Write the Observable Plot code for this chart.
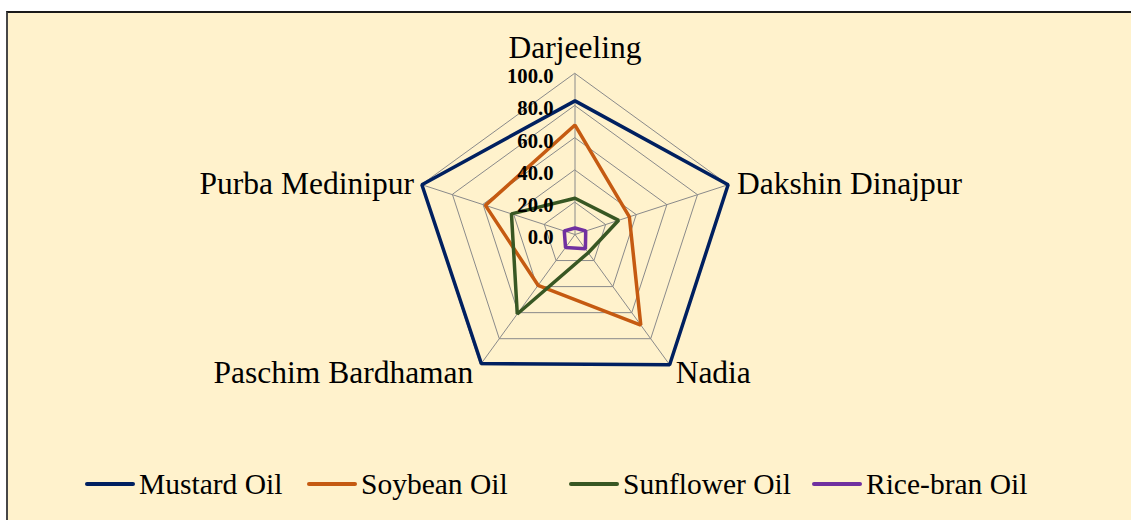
<!DOCTYPE html>
<html>
<head>
<meta charset="utf-8">
<script src="https://cdn.jsdelivr.net/npm/d3@7"></script>
<script src="https://cdn.jsdelivr.net/npm/@observablehq/plot@0.6"></script>
<style>
  html, body { margin: 0; padding: 0; background: #ffffff; width: 1131px; height: 520px; overflow: hidden; }
  #frame { position: absolute; left: 6px; top: 11px; width: 1200px; height: 600px; background: #FFF2CC;
           border-left: 2px solid #474747; border-top: 2px solid #1a1a1a; }
  #chart { position: absolute; left: 0; top: 0; }
  #legend { position: absolute; left: 0; top: 0; width: 1131px; height: 520px;
            font-family: "Liberation Serif", "Times New Roman", serif; font-size: 29.5px; color: #000; }
  .item { position: absolute; top: 467px; height: 34px; display: flex; align-items: center; white-space: nowrap; }
  .swatch { width: 50px; height: 4px; border-radius: 2px; }
  .label { margin-left: 4px; line-height: 34px; }
</style>
</head>
<body>
<div id="frame"></div>
<div id="chart"></div>
<div id="legend"></div>
<script>
// ---- data ----
const categories = ["Darjeeling", "Dakshin Dinajpur", "Nadia", "Paschim Bardhaman", "Purba Medinipur"];
const seriesNames = ["Mustard Oil", "Soybean Oil", "Sunflower Oil", "Rice-bran Oil"];
const mustardOil   = [83, 100, 100, 99, 100];
const soybeanOil   = [68, 35.5, 69.5, 39, 58.5];
const sunflowerOil = [22.5, 28.5, 14, 61, 41.5];
const riceBranOil  = [4, 7, 11, 10, 7];
const tickValues = [0, 20, 40, 60, 80, 100];
const seriesColors = ["#002060", "#C55A11", "#385723", "#7030A0"];

// ---- layout ----
const W = 1131, H = 440, CX = 574.5, CY = 234, R100 = 161;
const k = R100 / 100;
const serif = '"Liberation Serif", "Times New Roman", serif';

const seriesValues = [mustardOil, soybeanOil, sunflowerOil, riceBranOil];
const rows = seriesNames.flatMap((s, i) => categories.map((c, j) => ({series: s, category: c, value: seriesValues[i][j]})));
const ringRows = tickValues.filter(t => t > 0).flatMap(r => categories.map(c => ({r, category: c})));

const ang = c => categories.indexOf(c) * 2 * Math.PI / categories.length;
const px = (c, v) => v * Math.sin(ang(c));
const py = (c, v) => v * Math.cos(ang(c));

const labelLayout = {
  "Darjeeling":        {anchor: "middle", dx: 0,  dy: -16},
  "Dakshin Dinajpur":  {anchor: "start",  dx: 9,  dy: 9},
  "Nadia":             {anchor: "start",  dx: 6,  dy: 18},
  "Paschim Bardhaman": {anchor: "end",    dx: -7, dy: 18},
  "Purba Medinipur":   {anchor: "end",    dx: -8, dy: 9}
};

const labelMarks = categories.map(c => Plot.text([c], {
  x: d => px(d, 100), y: d => py(d, 100), text: d => d,
  textAnchor: labelLayout[c].anchor, lineAnchor: "bottom",
  dx: labelLayout[c].dx, dy: labelLayout[c].dy,
  fontSize: 31.5, fontFamily: serif, fill: "#000"
}));

const chart = Plot.plot({
  width: W, height: H, margin: 0,
  style: {background: "transparent", fontFamily: serif, overflow: "visible"},
  x: {domain: [-CX / k, (W - CX) / k], range: [0, W], axis: null},
  y: {domain: [-(H - CY) / k, CY / k], range: [H, 0], axis: null},
  color: {domain: seriesNames, range: seriesColors},
  marks: [
    Plot.line(ringRows, {
      x: d => px(d.category, d.r), y: d => py(d.category, d.r), z: "r",
      curve: "linear-closed", stroke: "#8a8a8a", strokeWidth: 1
    }),
    Plot.link(categories, {
      x1: 0, y1: 0, x2: c => px(c, 100), y2: c => py(c, 100),
      stroke: "#8a8a8a", strokeWidth: 1
    }),
    Plot.line(rows, {
      x: d => px(d.category, d.value), y: d => py(d.category, d.value),
      z: "series", stroke: "series", curve: "linear-closed",
      strokeWidth: 3.5, strokeLinejoin: "miter"
    }),
    Plot.text(tickValues, {
      x: 0, y: d => d, text: d => d.toFixed(1),
      textAnchor: "end", dx: -21.5, dy: 3,
      fontWeight: "bold", fontSize: 20.7, fontFamily: serif, fill: "#000"
    }),
    ...labelMarks
  ]
});
document.getElementById("chart").appendChild(chart);

// ---- legend (HTML, below the SVG in the DOM) ----
const legendLefts = [85, 307, 569, 812];
const legend = document.getElementById("legend");
seriesNames.forEach((s, i) => {
  const item = document.createElement("div");
  item.className = "item";
  item.style.left = legendLefts[i] + "px";
  const sw = document.createElement("span");
  sw.className = "swatch";
  sw.style.background = seriesColors[i];
  const lb = document.createElement("span");
  lb.className = "label";
  lb.textContent = s;
  item.appendChild(sw);
  item.appendChild(lb);
  legend.appendChild(item);
});
</script>
</body>
</html>
